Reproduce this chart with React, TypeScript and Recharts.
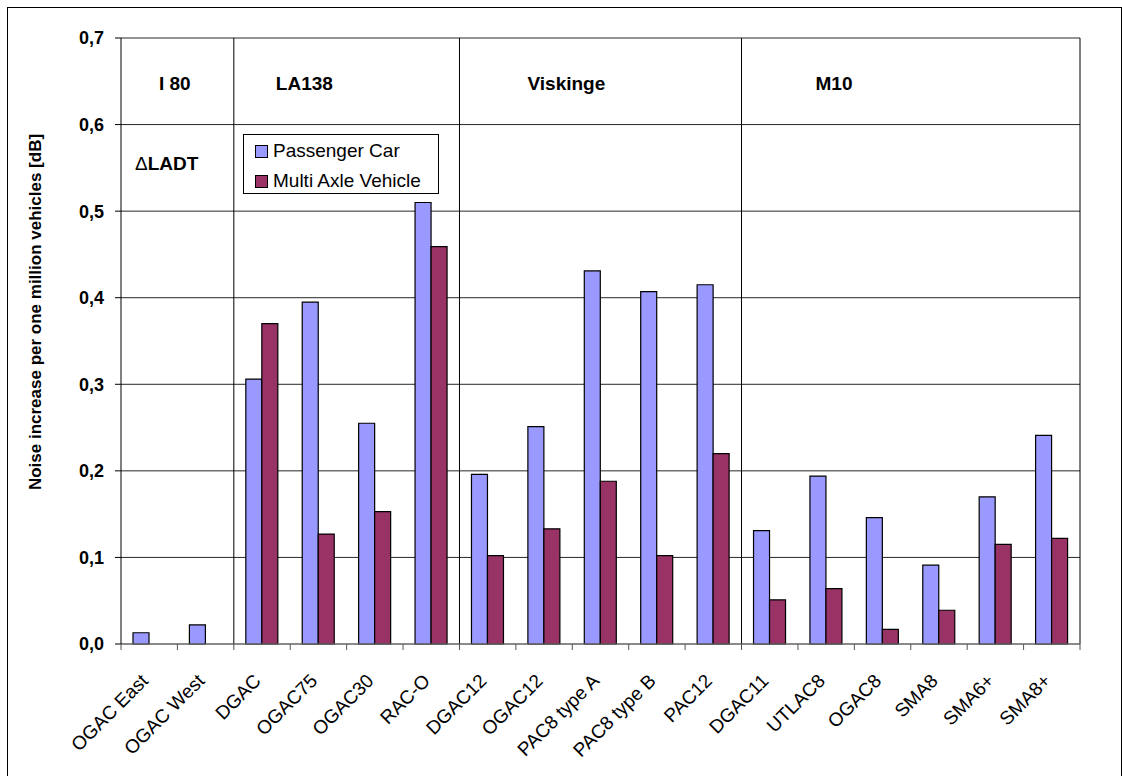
import React from "react";
import { BarChart, Bar, XAxis, YAxis, CartesianGrid, ReferenceLine } from "recharts";

// road sections along the x axis
const sections = [
    "OGAC East", "OGAC West",
    "DGAC", "OGAC75", "OGAC30", "RAC-O",
    "DGAC12", "OGAC12", "PAC8 type A", "PAC8 type B", "PAC12",
    "DGAC11", "UTLAC8", "OGAC8", "SMA8", "SMA6+", "SMA8+",
];

// noise increase per one million vehicles [dB]
const passengerCar = [
    0.013, 0.022,
    0.306, 0.395, 0.255, 0.510,
    0.196, 0.251, 0.431, 0.407, 0.415,
    0.131, 0.194, 0.146, 0.091, 0.170, 0.241,
];
const multiAxle = [
    null, null,
    0.370, 0.127, 0.153, 0.459,
    0.102, 0.133, 0.188, 0.102, 0.220,
    0.051, 0.064, 0.017, 0.039, 0.115, 0.122,
];

const seriesNames = ["Passenger Car", "Multi Axle Vehicle"];
const yTicks = [0, 0.1, 0.2, 0.3, 0.4, 0.5, 0.6, 0.7];

// test sites and the first section of each
const siteNames = ["I 80", "LA138", "Viskinge", "M10"];
const siteStarts = ["OGAC East", "DGAC", "DGAC12", "DGAC11"];

const FONT = "'Liberation Sans', Arial, sans-serif";
const BLUE = "#9999FF";
const MAROON = "#993366";

const PLOT_LEFT = 121;
const PLOT_RIGHT = 1080;
const BAND = (PLOT_RIGHT - PLOT_LEFT) / sections.length;

// offsets of the site names from their separator line
const siteDx = [38, 42, 68, 74];

const data = sections.map((name, i) => ({
    name,
    pc: passengerCar[i],
    mav: multiAxle[i],
}));

function XTick(props: any) {
    const { x, y, payload, index } = props;
    const half = BAND / 2;
    const ly = y + 32;
    return (
        <g>
            <line x1={x - half} x2={x - half} y1={y - 6} y2={y} stroke="#555" />
            {index === sections.length - 1 && (
                <line x1={x + half} x2={x + half} y1={y - 6} y2={y} stroke="#555" />
            )}
            <text
                x={x}
                y={ly}
                textAnchor="end"
                transform={`rotate(-45, ${x}, ${ly})`}
                fontSize={19}
                fontFamily={FONT}
                fill="#000"
            >
                {payload.value}
            </text>
        </g>
    );
}

function SiteLabel(props: any) {
    const { viewBox, text, dx, showDelta } = props;
    const x = viewBox.x + dx;
    return (
        <g>
            <text x={x} y={90} fontSize={19} fontWeight="bold" fontFamily={FONT} fill="#000">
                {text}
            </text>
            {showDelta && (
                <text x={viewBox.x + 14} y={170} fontSize={19} fontWeight="bold" fontFamily={FONT} fill="#000">
                    <tspan fontWeight="normal">Δ</tspan>LADT
                </text>
            )}
        </g>
    );
}

function YTitle() {
    const cx = 35;
    const cy = 312;
    return (
        <text
            x={cx}
            y={cy}
            transform={`rotate(-90, ${cx}, ${cy})`}
            textAnchor="middle"
            dominantBaseline="central"
            fontSize={17}
            fontWeight="bold"
            fontFamily={FONT}
            fill="#000"
        >
            Noise increase per one million vehicles [dB]
        </text>
    );
}

function LegendBox() {
    const colors = [BLUE, MAROON];
    return (
        <div
            style={{
                position: "absolute",
                left: 243,
                top: 134,
                width: 194,
                height: 58,
                border: "1px solid #000",
                background: "#fff",
                fontFamily: FONT,
                fontSize: 19,
            }}
        >
            {seriesNames.map((n, i) => (
                <div
                    key={n}
                    style={{
                        position: "absolute",
                        left: 11,
                        top: 5 + i * 30,
                        height: 22,
                        display: "flex",
                        alignItems: "center",
                        whiteSpace: "nowrap",
                    }}
                >
                    <span
                        style={{
                            display: "inline-block",
                            width: 11,
                            height: 11,
                            background: colors[i],
                            border: "1px solid #000",
                            marginRight: 5,
                        }}
                    />
                    {n}
                </div>
            ))}
        </div>
    );
}

export default function App() {
    return (
        <div
            style={{
                position: "absolute",
                left: 0,
                top: 0,
                width: 1122,
                height: 776,
                overflow: "hidden",
                background: "#fff",
            }}
        >
            <div
                style={{
                    position: "absolute",
                    left: 7,
                    top: 7,
                    width: 1113,
                    height: 800,
                    borderLeft: "1px solid #000",
                    borderTop: "1px solid #000",
                    borderRight: "1px solid #000",
                }}
            />
            <div style={{ position: "absolute", left: 0, top: 0 }}>
                <BarChart
                    width={1122}
                    height={776}
                    data={data}
                    margin={{ top: 38, right: 1122 - PLOT_RIGHT, bottom: 12, left: 0 }}
                    barGap={0}
                    barSize={16}
                >
                    <CartesianGrid horizontal vertical={false} stroke="#000" strokeOpacity={0.85} />
                    <XAxis
                        dataKey="name"
                        interval={0}
                        height={120}
                        tickSize={6}
                        tickMargin={0}
                        tickLine={false}
                        axisLine={{ stroke: "#808080" }}
                        tick={<XTick />}
                    />
                    <YAxis
                        width={PLOT_LEFT}
                        domain={[0, 0.7]}
                        ticks={yTicks}
                        tickSize={6}
                        tickMargin={11}
                        tickFormatter={(v: number) => v.toFixed(1).replace(".", ",")}
                        tick={{ fill: "#000", fontSize: 18, fontWeight: "bold", fontFamily: FONT }}
                        axisLine={{ stroke: "#000" }}
                        tickLine={{ stroke: "#000" }}
                        label={<YTitle />}
                    />
                    {siteStarts.map((s, i) => (
                        <ReferenceLine
                            key={s}
                            x={s}
                            position="start"
                            stroke={i === 0 ? "none" : "#000"}
                            label={<SiteLabel text={siteNames[i]} dx={siteDx[i]} showDelta={i === 0} />}
                        />
                    ))}
                    <ReferenceLine x={sections[sections.length - 1]} position="end" stroke="#000" />
                    <Bar
                        dataKey="pc"
                        name={seriesNames[0]}
                        fill={BLUE}
                        stroke="#000"
                        strokeWidth={1.2}
                        isAnimationActive={false}
                    />
                    <Bar
                        dataKey="mav"
                        name={seriesNames[1]}
                        fill={MAROON}
                        stroke="#000"
                        strokeWidth={1.2}
                        isAnimationActive={false}
                    />
                </BarChart>
            </div>
            <LegendBox />
        </div>
    );
}
